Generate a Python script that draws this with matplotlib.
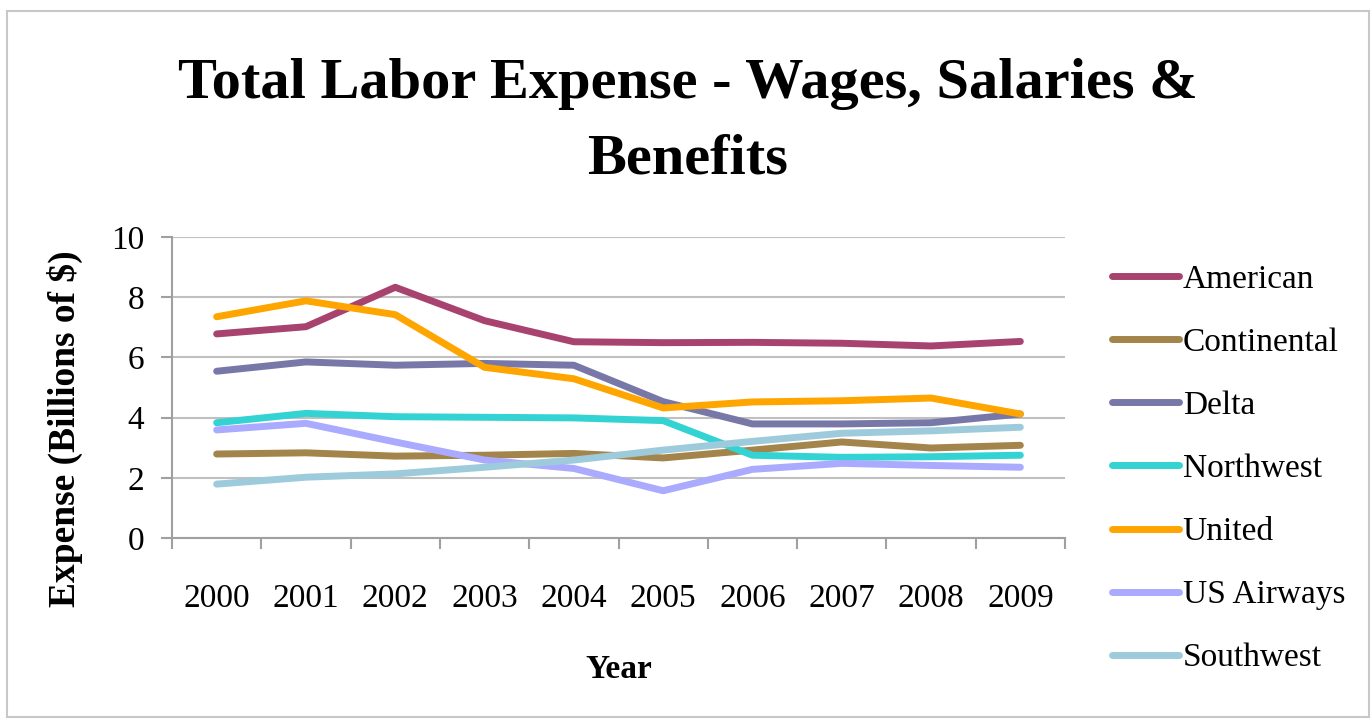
import matplotlib
matplotlib.use('Agg')
import matplotlib.pyplot as plt
from matplotlib.patches import Rectangle
from matplotlib.ticker import FixedLocator

years = ['2000', '2001', '2002', '2003', '2004', '2005', '2006', '2007', '2008', '2009']

american = [6.78, 7.02, 8.33, 7.22, 6.52, 6.49, 6.50, 6.47, 6.38, 6.53]
continental = [2.79, 2.83, 2.72, 2.75, 2.81, 2.66, 2.92, 3.19, 2.99, 3.08]
delta = [5.54, 5.85, 5.74, 5.80, 5.74, 4.53, 3.79, 3.79, 3.83, 4.12]
northwest = [3.83, 4.14, 4.03, 4.01, 3.99, 3.90, 2.75, 2.68, 2.70, 2.75]
united = [7.35, 7.88, 7.42, 5.67, 5.29, 4.32, 4.52, 4.56, 4.65, 4.12]
us_airways = [3.59, 3.81, 3.19, 2.59, 2.31, 1.57, 2.28, 2.48, 2.41, 2.35]
southwest = [1.79, 2.02, 2.13, 2.35, 2.59, 2.92, 3.21, 3.48, 3.56, 3.68]

series = [
    ('American', american, '#a8436f'),
    ('Continental', continental, '#a3844a'),
    ('Delta', delta, '#7878a8'),
    ('Northwest', northwest, '#33d3d3'),
    ('United', united, '#ffa500'),
    ('US Airways', us_airways, '#aaaaff'),
    ('Southwest', southwest, '#9ecbdb'),
]

plt.rcParams['font.family'] = ['Liberation Serif', 'DejaVu Serif']

fig = plt.figure(figsize=(13.72, 7.21), dpi=100)
fig.patches.append(Rectangle((7 / 1372, 4 / 721), 1362 / 1372, 706 / 721,
                             transform=fig.transFigure, fill=False,
                             edgecolor='#c8c8c8', linewidth=1.5))

ax = fig.add_axes([172 / 1372, 1 - 538 / 721, 893 / 1372, 301 / 721])

x = list(range(len(years)))
for name, vals, col in series:
    ax.plot(x, vals, color=col, linewidth=5, label=name, solid_capstyle='round')

ax.set_xlim(-0.5, len(years) - 0.5)
ax.set_ylim(0, 10)
ax.set_yticks([0, 2, 4, 6, 8, 10])
ax.yaxis.grid(True, color='#c0c0c0', linewidth=1.5)
ax.set_axisbelow(True)
ax.set_xticks(x)
ax.set_xticklabels(years)
ax.xaxis.set_minor_locator(FixedLocator([i - 0.5 for i in range(len(years) + 1)]))
ax.tick_params(axis='x', which='major', length=0, pad=33, labelsize=24)
ax.tick_params(axis='x', which='minor', length=8, width=1.5, color='#a0a0a0', direction='out')
ax.tick_params(axis='y', length=8, width=1.5, color='#a0a0a0', pad=12, labelsize=24)

for side in ['top', 'right']:
    ax.spines[side].set_visible(False)
for side in ['left', 'bottom']:
    ax.spines[side].set_color('#a0a0a0')
    ax.spines[side].set_linewidth(1.5)

ax.set_xlabel('Year', fontsize=24, fontweight='bold')
ax.xaxis.set_label_coords(0.5, -0.385)
ax.set_ylabel('Expense (Billions of $)', fontsize=27, fontweight='bold')
ax.yaxis.set_label_coords(-0.10, 0.363)

fig.text(0.5 * (175 + 1200) / 1372, 1 - 122 / 721,
         'Total Labor Expense - Wages, Salaries &\nBenefits',
         ha='center', va='center', fontsize=42, fontweight='bold',
         linespacing=1.58)

ax.legend(loc='upper left', bbox_to_anchor=(1112 / 1372, 1 - 264 / 721),
          bbox_transform=fig.transFigure, frameon=False, fontsize=24,
          handlelength=2.0, handletextpad=0.12, labelspacing=0.98,
          borderpad=0, borderaxespad=0)

fig.savefig('out.png', dpi=100)
